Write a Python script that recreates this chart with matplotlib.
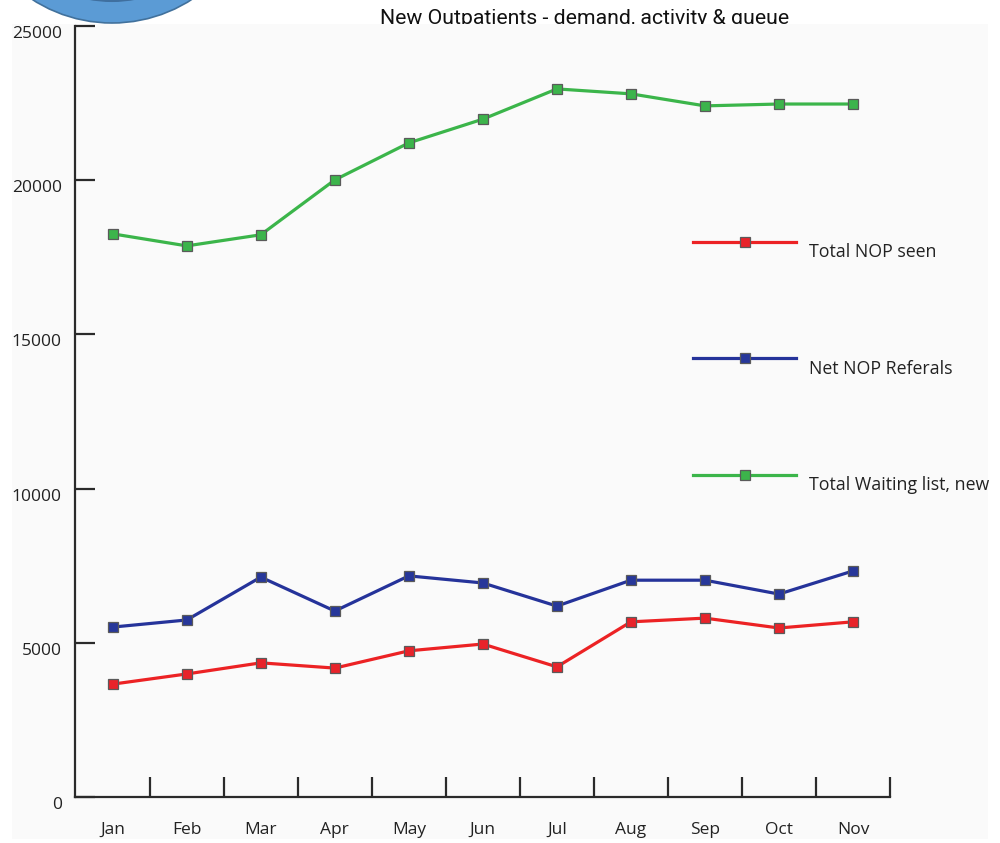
import matplotlib
matplotlib.use("Agg")
import matplotlib.pyplot as plt
import matplotlib.transforms as mtransforms
from matplotlib.patches import Rectangle, Circle

months = ["Jan", "Feb", "Mar", "Apr", "May", "Jun", "Jul", "Aug", "Sep", "Oct", "Nov"]
nop_seen = [3660, 3990, 4350, 4180, 4740, 4960, 4220, 5680, 5800, 5480, 5680]
nop_referrals = [5510, 5740, 7130, 6030, 7170, 6940, 6190, 7030, 7030, 6580, 7330]
waiting_list = [18260, 17870, 18230, 20010, 21210, 21980, 22960, 22800, 22410, 22470, 22470]
yticks = [0, 5000, 10000, 15000, 20000, 25000]

series = [
    ("Total NOP seen", nop_seen, "#ec2224", "#e8232a"),
    ("Net NOP Referals", nop_referrals, "#25339a", "#27379a"),
    ("Total Waiting list, new", waiting_list, "#3bb54a", "#3cb44b"),
]

plt.rcParams["xtick.direction"] = "in"
plt.rcParams["ytick.direction"] = "in"

W, H = 1000, 843
fig = plt.figure(figsize=(W / 100, H / 100), dpi=100)

# title, partly hidden by the panel below it
fig.text(585 / W, 1 - 18 / H, "New Outpatients - demand, activity & queue",
         ha="center", va="center", fontsize=15.3, family="Roboto", color="#111111", zorder=1)
fig.patches.append(Rectangle((12 / W, 1 - 839 / H), 976 / W, 815 / H, transform=fig.transFigure,
                             facecolor="#fafafa", edgecolor="none", zorder=2))

ax = fig.add_axes([75 / W, 1 - 797 / H, 815 / W, 771 / H])
ax.set_zorder(3)
ax.patch.set_alpha(0)

x = list(range(len(months)))
for name, vals, lc, mc in series:
    ax.plot(x, vals, color=lc, lw=2.3, marker="s", ms=7.5, mfc=mc, mec="#5a5a5a", mew=0.9,
            label=name, clip_on=False)

ax.set_xlim(-0.51, 10.5)
ax.set_ylim(0, 25000)
for s in ["top", "right"]:
    ax.spines[s].set_visible(False)
for s in ["left", "bottom"]:
    ax.spines[s].set_linewidth(1.6)
    ax.spines[s].set_color("#2a2a2a")

# month labels at the points, tick marks between months
ax.set_xticks(x)
ax.set_xticklabels(months, family="Open Sans", fontsize=12.5, color="#222222")
ax.set_xticks([i + 0.5 for i in range(len(months))], minor=True)
ax.tick_params(axis="x", which="major", length=0, pad=18)
ax.tick_params(axis="x", which="minor", direction="in", length=14.5, width=1.6, color="#2a2a2a")

ax.set_yticks(yticks)
ax.set_yticklabels([str(v) for v in yticks], family="Open Sans", fontsize=12.5, color="#222222")
ax.tick_params(axis="y", which="major", direction="in", length=14.5, width=1.6,
               color="#2a2a2a", pad=9.5, left=True, right=False)
off = mtransforms.ScaledTranslation(0, -6 / 100, fig.dpi_scale_trans)
for lbl in ax.get_yticklabels():
    lbl.set_transform(lbl.get_transform() + off)

leg = ax.legend(loc="upper left", bbox_to_anchor=(693 / W, 1 - 234 / H), bbox_transform=fig.transFigure,
                frameon=False, handlelength=5.8, handletextpad=0.7, labelspacing=5.55,
                borderpad=0, borderaxespad=0,
                prop={"family": "Open Sans", "size": 12.8})
toff = mtransforms.ScaledTranslation(0, -9 / 100, fig.dpi_scale_trans)
for t in leg.get_texts():
    t.set_color("#222222")
    t.set_transform(t.get_transform() + toff)

# decorative circle in the top-left corner
circ = Circle((112, H + 124), 147, transform=mtransforms.IdentityTransform(),
              facecolor="#5b9bd5", edgecolor="#41719c", lw=1.2, zorder=4)
fig.patches.append(circ)
inner = Circle((112, H + 124), 125, transform=mtransforms.IdentityTransform(),
               facecolor="none", edgecolor="#3f6f9f", lw=1.5, zorder=5)
fig.patches.append(inner)

fig.savefig("out.png", dpi=100)
